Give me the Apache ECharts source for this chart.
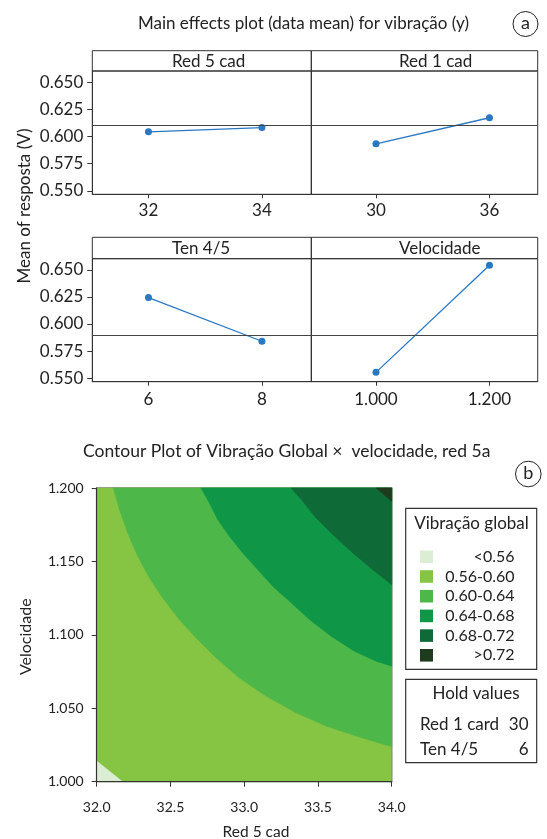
<!DOCTYPE html>
<html>
<head>
<meta charset="utf-8">
<script src="https://cdn.jsdelivr.net/npm/echarts@6/dist/echarts.min.js"></script>
<style>
  html, body { margin: 0; padding: 0; background: #ffffff; }
  #main { width: 547px; height: 839px; }
</style>
</head>
<body>
<div id="main"></div>
<script>
// ---- Main effects plot: factor levels and response means ----
const red5Levels = [32, 34];
const red5Means = [0.6043, 0.6082];
const red1Levels = [30, 36];
const red1Means = [0.5932, 0.6172];
const tenLevels = [6, 8];
const tenMeans = [0.6244, 0.5841];
const velLevels = [1.0, 1.2];
const velMeans = [0.5554, 0.6542];
const grandMeanTop = 0.6070;
const grandMeanBottom = 0.5924;
const meanTicks = [0.55, 0.575, 0.6, 0.625, 0.65];
const panelNames = ['Red 5 cad', 'Red 1 cad', 'Ten 4/5', 'Velocidade'];

// ---- Contour plot: band boundaries as [red 5 cad, velocidade] ----
const contourXRange = [32.0, 34.0];
const contourYRange = [1.0, 1.2];
const contour056 = [[32.0, 1.0141], [32.176, 1.0]];
const contour060 = [
  [32.113, 1.2], [32.154, 1.1853], [32.210, 1.1694], [32.278, 1.1535],
  [32.357, 1.1388], [32.447, 1.1252], [32.560, 1.1104], [32.673, 1.0980],
  [32.809, 1.0844], [32.967, 1.0707], [33.148, 1.0583], [33.351, 1.0469],
  [33.555, 1.0379], [33.758, 1.0311], [34.0, 1.0238]
];
const contour064 = [
  [32.707, 1.2], [32.764, 1.1898], [32.820, 1.1785], [32.899, 1.1671],
  [32.990, 1.1558], [33.092, 1.1444], [33.193, 1.1331], [33.318, 1.1218],
  [33.442, 1.1104], [33.589, 1.0991], [33.747, 1.0889], [33.894, 1.0821],
  [34.0, 1.0787]
];
const contour068 = [
  [33.318, 1.2], [33.397, 1.1909], [33.487, 1.1796], [33.600, 1.1683],
  [33.736, 1.1558], [33.871, 1.1444], [34.0, 1.1342]
];
const contour072 = [[33.894, 1.2], [34.0, 1.1909]];
const bandLabels = ['<0.56', '0.56-0.60', '0.60-0.64', '0.64-0.68', '0.68-0.72', '>0.72'];
const bandColors = ['#dcedd5', '#86c443', '#4db749', '#0f9647', '#0e6b38', '#1f3b1e'];
const holdNames = ['Red 1 card', 'Ten 4/5'];
const holdValues = [30, 6];

const FONT = 'Lato';
const INK = '#222';
const FRAME = '#333';

const chart = echarts.init(document.getElementById('main'), null, { renderer: 'canvas' });

// panel layout of the 2x2 main effects grid
const colX = [92.3, 311.3, 537.7];
const rows = [
  { strip: 50.7, top: 71, bottom: 194.3 },
  { strip: 237.3, top: 258.7, bottom: 381.7 }
];
const panels = [
  { levels: red5Levels, means: red5Means, row: 0, col: 0, xmin: 31.01, xmax: 34.87, grand: grandMeanTop, fmt: v => String(v), labelX: 172 },
  { levels: red1Levels, means: red1Means, row: 0, col: 1, xmin: 26.58, xmax: 38.55, grand: grandMeanTop, fmt: v => String(v), labelX: 399 },
  { levels: tenLevels, means: tenMeans, row: 1, col: 0, xmin: 5.01, xmax: 8.87, grand: grandMeanBottom, fmt: v => String(v), labelX: 172 },
  { levels: velLevels, means: velMeans, row: 1, col: 1, xmin: 0.886, xmax: 1.285, grand: grandMeanBottom, fmt: v => v.toFixed(3), labelX: 399 }
];

const grids = [], xAxes = [], yAxes = [], series = [], graphics = [];

panels.forEach((p, i) => {
  const r = rows[p.row];
  const left = colX[p.col], right = colX[p.col + 1];
  grids.push({
    left: left, top: r.top, width: right - left, height: r.bottom - r.top,
    show: true, borderColor: FRAME, borderWidth: 1, backgroundColor: 'transparent'
  });
  xAxes.push({
    type: 'value', gridIndex: i, min: p.xmin, max: p.xmax,
    axisLine: { show: true, lineStyle: { color: FRAME } },
    axisTick: { show: true, length: 4, lineStyle: { color: FRAME }, customValues: p.levels },
    axisLabel: { show: true, customValues: p.levels, formatter: p.fmt, fontFamily: FONT, fontSize: 17, color: INK, margin: p.row === 0 ? 8 : 9 },
    splitLine: { show: false }
  });
  const showY = p.col === 0;
  yAxes.push({
    type: 'value', gridIndex: i, min: 0.5468, max: 0.6602,
    axisLine: { show: true, lineStyle: { color: FRAME } },
    axisTick: { show: showY, length: 5, lineStyle: { color: FRAME }, customValues: meanTicks },
    axisLabel: { show: showY, customValues: meanTicks, formatter: v => v.toFixed(3), fontFamily: FONT, fontSize: 17, color: INK, margin: 9 },
    splitLine: { show: false }
  });
  series.push({
    type: 'line', xAxisIndex: i, yAxisIndex: i,
    data: p.levels.map((lv, k) => [lv, p.means[k]]),
    symbol: 'circle', symbolSize: 7,
    itemStyle: { color: '#2a78c2' },
    lineStyle: { color: '#2a78c2', width: 1.3 },
    silent: true, animation: false,
    markLine: {
      silent: true, symbol: 'none', animation: false,
      label: { show: false },
      lineStyle: { color: '#444', width: 1.2, type: 'solid' },
      data: [{ yAxis: p.grand }]
    }
  });
  // strip header
  graphics.push({
    type: 'rect', shape: { x: left, y: r.strip, width: right - left, height: r.top - r.strip },
    style: { fill: 'none', stroke: FRAME, lineWidth: 1 }
  });
  graphics.push({
    type: 'text', x: p.labelX, y: (r.strip + r.top) / 2 + 1,
    style: { text: panelNames[i], font: '17px ' + FONT, fill: INK, align: 'left', verticalAlign: 'middle' }
  });
});

// contour plot axes
const cIdx = 4;
grids.push({
  left: 96.7, top: 488, width: 295, height: 293.7,
  show: true, borderColor: FRAME, borderWidth: 1.2, backgroundColor: 'transparent'
});
xAxes.push({
  type: 'value', gridIndex: cIdx, min: contourXRange[0], max: contourXRange[1], interval: 0.5,
  axisLine: { show: true, lineStyle: { color: FRAME, width: 1.2 } },
  axisTick: { show: true, length: 5, lineStyle: { color: FRAME } },
  axisLabel: { fontFamily: FONT, fontSize: 14, color: INK, margin: 19, formatter: v => v.toFixed(1) },
  splitLine: { show: false }, z: 10
});
yAxes.push({
  type: 'value', gridIndex: cIdx, min: contourYRange[0], max: contourYRange[1], interval: 0.05,
  axisLine: { show: true, lineStyle: { color: FRAME, width: 1.2 } },
  axisTick: { show: true, length: 5, lineStyle: { color: FRAME } },
  axisLabel: { fontFamily: FONT, fontSize: 14, color: INK, margin: 13, formatter: v => v.toFixed(3) },
  splitLine: { show: false }, z: 10
});

// filled bands, painted from the base band upward
const xLo = contourXRange[0], xHi = contourXRange[1];
const yLo = contourYRange[0], yHi = contourYRange[1];
const bandPolygons = [
  { band: 1, pts: [[xLo, yLo], [xHi, yLo], [xHi, yHi], [xLo, yHi]] },
  { band: 0, pts: contour056.concat([[xLo, yLo]]) },
  { band: 2, pts: contour060.concat([[xHi, yHi]]) },
  { band: 3, pts: contour064.concat([[xHi, yHi]]) },
  { band: 4, pts: contour068.concat([[xHi, yHi]]) },
  { band: 5, pts: contour072.concat([[xHi, yHi]]) }
];
bandPolygons.forEach(bp => {
  series.push({
    type: 'custom', name: bandLabels[bp.band],
    xAxisIndex: cIdx, yAxisIndex: cIdx,
    data: bp.pts, silent: true, animation: false, z: 1,
    renderItem: function (params, api) {
      if (params.dataIndex !== 0) return null;
      const pts = bp.pts.map(pt => api.coord(pt));
      return {
        type: 'polygon', shape: { points: pts },
        style: { fill: bandColors[bp.band], stroke: bandColors[bp.band], lineWidth: 0.5 }
      };
    }
  });
});

// titles and labels
graphics.push(
  { type: 'text', x: 303.5, y: 24, style: { text: 'Main effects plot (data mean) for vibração (y)', font: '17px ' + FONT, fill: INK, align: 'center', verticalAlign: 'middle' } },
  { type: 'circle', shape: { cx: 525.5, cy: 24, r: 12.5 }, style: { fill: 'none', stroke: INK, lineWidth: 1 } },
  { type: 'text', x: 525.5, y: 23, style: { text: 'a', font: '18px ' + FONT, fill: INK, align: 'center', verticalAlign: 'middle' } },
  { type: 'text', x: 25, y: 206, rotation: Math.PI / 2, style: { text: 'Mean of resposta (V)', font: '17px ' + FONT, fill: INK, align: 'center', verticalAlign: 'middle' } },
  { type: 'text', x: 286.7, y: 451.7, style: { text: 'Contour Plot of Vibração Global ×  velocidade, red 5a', font: '17.5px ' + FONT, fill: INK, align: 'center', verticalAlign: 'middle' } },
  { type: 'circle', shape: { cx: 528.3, cy: 474, r: 12.8 }, style: { fill: 'none', stroke: INK, lineWidth: 1 } },
  { type: 'text', x: 528.3, y: 473, style: { text: 'b', font: '18px ' + FONT, fill: INK, align: 'center', verticalAlign: 'middle' } },
  { type: 'text', x: 26, y: 636.7, rotation: Math.PI / 2, style: { text: 'Velocidade', font: '16px ' + FONT, fill: INK, align: 'center', verticalAlign: 'middle' } },
  { type: 'text', x: 256, y: 831.5, style: { text: 'Red 5 cad', font: '15.5px ' + FONT, fill: INK, align: 'center', verticalAlign: 'middle' } }
);

// band key
graphics.push(
  { type: 'rect', shape: { x: 405.7, y: 508.3, width: 131, height: 161 }, style: { fill: '#fff', stroke: FRAME, lineWidth: 1.2 } },
  { type: 'text', x: 471.5, y: 524, style: { text: 'Vibração global', font: '17px ' + FONT, fill: INK, align: 'center', verticalAlign: 'middle' } }
);
bandLabels.forEach((lab, i) => {
  const cy = 556.8 + i * 19.7;
  graphics.push(
    { type: 'rect', shape: { x: 420, y: cy - 6.3, width: 13, height: 12.6 }, style: { fill: bandColors[i] } },
    { type: 'text', x: 514.5, y: cy, style: { text: lab, font: '16px ' + FONT, fill: INK, align: 'right', verticalAlign: 'middle' } }
  );
});

// hold values box
graphics.push(
  { type: 'rect', shape: { x: 405.7, y: 679.3, width: 131, height: 83.4 }, style: { fill: '#fff', stroke: FRAME, lineWidth: 1.2 } },
  { type: 'text', x: 476, y: 694, style: { text: 'Hold values', font: '17px ' + FONT, fill: INK, align: 'center', verticalAlign: 'middle' } }
);
holdNames.forEach((nm, i) => {
  const cy = 725 + i * 25;
  graphics.push(
    { type: 'text', x: 420, y: cy, style: { text: nm, font: '17px ' + FONT, fill: INK, align: 'left', verticalAlign: 'middle' } },
    { type: 'text', x: 528.5, y: cy, style: { text: String(holdValues[i]), font: '17px ' + FONT, fill: INK, align: 'right', verticalAlign: 'middle' } }
  );
});

chart.setOption({
  backgroundColor: '#ffffff',
  animation: false,
  grid: grids,
  xAxis: xAxes,
  yAxis: yAxes,
  series: series,
  graphic: graphics
});
</script>
</body>
</html>
